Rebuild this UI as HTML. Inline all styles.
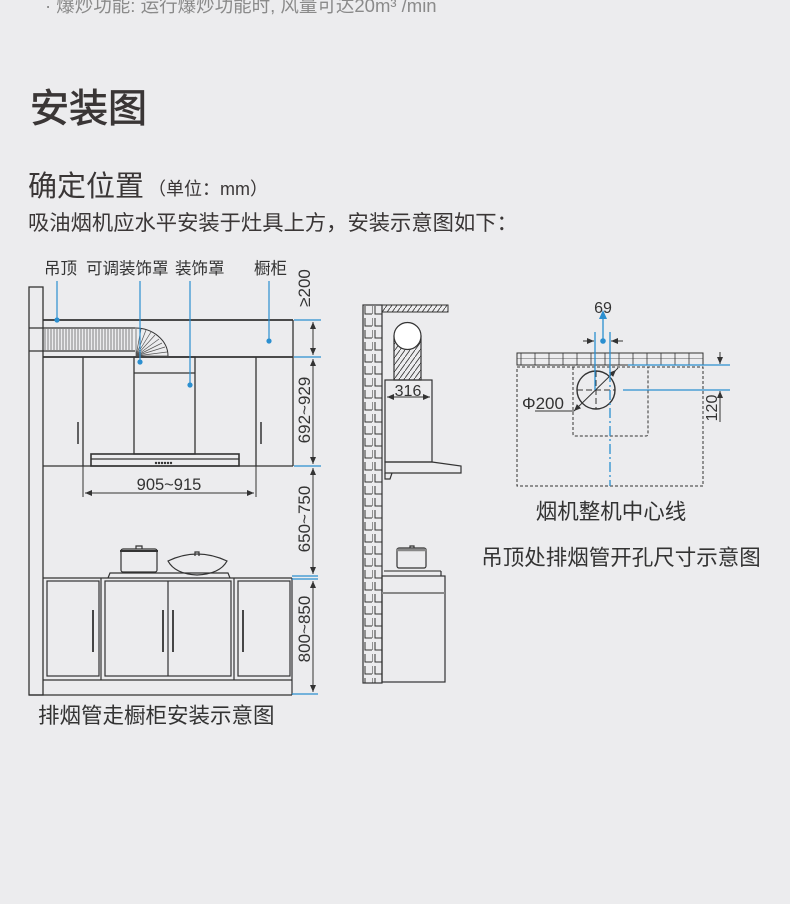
<!DOCTYPE html>
<html><head><meta charset="utf-8">
<style>
html,body{margin:0;padding:0;background:#ececee;}
svg{display:block;}
text{font-family:"Liberation Sans","Noto Sans CJK SC",sans-serif;}
</style></head><body>
<svg width="790" height="904" viewBox="0 0 790 904" xmlns="http://www.w3.org/2000/svg">
<defs>
<marker id="ar" markerWidth="8" markerHeight="8" refX="7" refY="4" orient="auto" markerUnits="userSpaceOnUse"><path d="M0,1 L7,4 L0,7 Z" fill="#333"/></marker>
<marker id="al" markerWidth="8" markerHeight="8" refX="1" refY="4" orient="auto" markerUnits="userSpaceOnUse"><path d="M8,1 L1,4 L8,7 Z" fill="#333"/></marker>
<pattern id="brick" width="10" height="12" patternUnits="userSpaceOnUse" x="363" y="305">
<path d="M2,1 V9 H9 M10,1 V9" stroke="#333" stroke-width="1" fill="none"/>
</pattern>
<pattern id="brick2" width="14" height="6" patternUnits="userSpaceOnUse" x="517" y="353">
<path d="M0,6 H14 M4,0 V6 M11,6 V12" stroke="#333" stroke-width="0.8" fill="none"/>
</pattern>
<pattern id="hatch" width="5" height="7" patternUnits="userSpaceOnUse">
<path d="M0,7 L5,0" stroke="#333" stroke-width="0.8"/>
</pattern>
</defs>

<text x="45" y="12" font-size="18.5" fill="#8a8a8a">· 爆炒功能: 运行爆炒功能时, 风量可达20m³ /min</text>
<text x="30" y="122" font-size="39" fill="#3a3636" stroke="#3a3636" stroke-width="0.8">安装图</text>
<text x="28" y="196" font-size="29" fill="#3a3636">确定位置</text>
<text x="148" y="195" font-size="18" fill="#3a3636">（单位：mm）</text>
<text x="28" y="230" font-size="21.3" fill="#3a3636">吸油烟机应水平安装于灶具上方，安装示意图如下：</text>

<g stroke="#333" stroke-width="1.3" fill="none">
<rect x="29" y="287" width="14" height="408"/>
<line x1="43" y1="320" x2="293" y2="320" stroke-width="1.8"/>
<line x1="43" y1="357" x2="293" y2="357" stroke-width="1.8"/>
<line x1="29" y1="328" x2="135" y2="328"/>
<line x1="29" y1="351" x2="135" y2="351"/>
<line x1="293" y1="320" x2="293" y2="466"/>
<line x1="43" y1="466" x2="293" y2="466"/>
<line x1="83" y1="357" x2="83" y2="466"/>
<line x1="256" y1="357" x2="256" y2="466"/>
<line x1="78" y1="422" x2="78" y2="444" stroke-width="1.5"/>
<line x1="261" y1="422" x2="261" y2="444" stroke-width="1.5"/>
<rect x="134" y="357" width="61" height="97"/>
<line x1="134" y1="373" x2="195" y2="373"/>
<rect x="91" y="454" width="148" height="12" stroke-width="1.6"/>
<line x1="91" y1="459" x2="239" y2="459"/>
</g>
<g stroke="#555" stroke-width="0.7">
<path d="M45,329V350M48,329V350M51,329V350M54,329V350M57,329V350M60,329V350M63,329V350M66,329V350M69,329V350M72,329V350M75,329V350M78,329V350M81,329V350M84,329V350M87,329V350M90,329V350M93,329V350M96,329V350M99,329V350M102,329V350M105,329V350M108,329V350M111,329V350M114,329V350M117,329V350M120,329V350M123,329V350M126,329V350M129,329V350M132,329V350"/>
<path d="M136,356 L136,329 M136,356 L141,329 M136,356 L146,330 M136,356 L151,332 M136,356 L155,335 M136,356 L159,339 M136,356 L162,343 M136,356 L165,347 M136,356 L167,352 M136,356 L168,356"/>
</g>
<path d="M135,328 A33,28 0 0 1 168,356" stroke="#333" fill="none"/>
<g fill="#333"><circle cx="156" cy="463" r="1.2"/><circle cx="159" cy="463" r="1.2"/><circle cx="162" cy="463" r="1.2"/><circle cx="165" cy="463" r="1.2"/><circle cx="168" cy="463" r="1.2"/><circle cx="171" cy="463" r="1.2"/></g>

<g stroke="#333" stroke-width="1"><line x1="83" y1="466" x2="83" y2="497"/><line x1="256" y1="466" x2="256" y2="497"/>
<line x1="85" y1="493" x2="254" y2="493" marker-start="url(#al)" marker-end="url(#ar)"/></g>
<text x="169" y="490" font-size="16.5" fill="#333" text-anchor="middle">905~915</text>

<g stroke="#333" stroke-width="1.2" fill="none">
<line x1="43" y1="578" x2="292" y2="578"/>
<line x1="43" y1="680" x2="292" y2="680"/>
<line x1="29" y1="695" x2="292" y2="695"/>
<line x1="292" y1="578" x2="292" y2="695"/>
<line x1="101" y1="578" x2="101" y2="680"/><line x1="234" y1="578" x2="234" y2="680"/>
<rect x="47" y="581" width="52" height="95"/>
<rect x="105" y="581" width="126" height="95"/>
<line x1="168" y1="581" x2="168" y2="676"/>
<rect x="238" y="581" width="52" height="95"/>
</g>
<g stroke="#333" stroke-width="1.8"><line x1="93" y1="610" x2="93" y2="652"/><line x1="163" y1="610" x2="163" y2="652"/><line x1="173" y1="610" x2="173" y2="652"/><line x1="243" y1="610" x2="243" y2="652"/></g>
<g stroke="#333" stroke-width="1.2" fill="none">
<rect x="121" y="549" width="36" height="23" rx="2"/>
<line x1="120" y1="551" x2="158" y2="551" stroke-width="2"/>
<path d="M136,549 v-3 h6 v3"/>
<path d="M168,561 Q197,547 227,561 Q220,574 197,575 Q175,574 168,561 Z"/>
<path d="M195,556 v-4 h4 v4"/>
<path d="M108,578 L110,573 H228 L230,578"/>
</g>

<g font-size="16.5" fill="#333"><text x="44" y="274">吊顶</text><text x="86" y="274">可调装饰罩</text><text x="175" y="274">装饰罩</text><text x="254" y="274">橱柜</text></g>
<g stroke="#2b8fd0" stroke-width="1.2"><line x1="57" y1="281" x2="57" y2="320"/><line x1="140" y1="281" x2="140" y2="362"/><line x1="190" y1="281" x2="190" y2="385"/><line x1="269" y1="281" x2="269" y2="341"/></g>
<g fill="#2b8fd0"><circle cx="57" cy="320" r="2.6"/><circle cx="140" cy="362" r="2.6"/><circle cx="190" cy="385" r="2.6"/><circle cx="269" cy="341" r="2.6"/></g>

<g stroke="#2b8fd0" stroke-width="1.3"><line x1="294" y1="320" x2="321" y2="320"/><line x1="294" y1="357" x2="321" y2="357"/><line x1="294" y1="466" x2="321" y2="466"/><line x1="292" y1="576" x2="318" y2="576"/><line x1="292" y1="579" x2="318" y2="579"/><line x1="292" y1="694" x2="318" y2="694"/></g>
<g stroke="#333" stroke-width="1">
<line x1="313" y1="322" x2="313" y2="355" marker-start="url(#al)" marker-end="url(#ar)"/>
<line x1="313" y1="359" x2="313" y2="464" marker-start="url(#al)" marker-end="url(#ar)"/>
<line x1="313" y1="468" x2="313" y2="574" marker-start="url(#al)" marker-end="url(#ar)"/>
<line x1="313" y1="581" x2="313" y2="692" marker-start="url(#al)" marker-end="url(#ar)"/>
</g>
<g font-size="17" fill="#333" text-anchor="middle">
<text transform="translate(310,288) rotate(-90)">≥200</text>
<text transform="translate(310,410) rotate(-90)">692~929</text>
<text transform="translate(310,519) rotate(-90)">650~750</text>
<text transform="translate(310,629) rotate(-90)">800~850</text>
</g>
<text x="38" y="723" font-size="21.5" fill="#333">排烟管走橱柜安装示意图</text>

<rect x="363" y="305" width="19" height="378" fill="url(#brick)" stroke="#333" stroke-width="1.2"/>
<rect x="382" y="305" width="66" height="7" fill="url(#hatch)" stroke="#333" stroke-width="1"/>
<g stroke="#333" stroke-width="1.2" fill="none">
<rect x="394" y="336" width="27" height="44" fill="url(#hatch)"/>
<circle cx="407.5" cy="336" r="13.5" fill="#fff"/>
<rect x="385" y="380" width="47" height="82"/>
<path d="M385,462 H432 L461,466 V473 H385 Z"/>
<path d="M385,473 v6 h5 l2,-6"/>
<rect x="397" y="548" width="29" height="20" rx="2"/>
<line x1="396" y1="550" x2="427" y2="550" stroke-width="2.5" stroke="#888"/>
<path d="M410,548 v-2 h4 v2"/>
<line x1="384" y1="571" x2="441" y2="571" stroke="#888" stroke-width="2"/>
<line x1="441" y1="571" x2="441" y2="576"/>
<rect x="382" y="576" width="63" height="106"/>
<line x1="382" y1="593" x2="445" y2="593" stroke="#888" stroke-width="2"/>
</g>
<line x1="387" y1="397" x2="430" y2="397" stroke="#333" marker-start="url(#al)" marker-end="url(#ar)"/>
<text x="408" y="396" font-size="16" fill="#333" text-anchor="middle">316</text>

<rect x="517" y="353" width="186" height="12" fill="url(#brick2)" stroke="#333" stroke-width="1"/>
<g stroke="#333" stroke-width="1" fill="none" stroke-dasharray="3,2">
<rect x="517" y="367" width="186" height="119"/>
<path d="M573,367 V434 Q573,436 575,436 H646 Q648,436 648,434 V367"/>
</g>
<circle cx="596" cy="390" r="19" fill="none" stroke="#333" stroke-width="1.4"/>
<g stroke="#333" stroke-width="1" stroke-dasharray="6,3"><line x1="577" y1="390" x2="615" y2="390"/><line x1="596" y1="371" x2="596" y2="409"/></g>
<line x1="535" y1="411" x2="574" y2="411" stroke="#333"/>
<line x1="574" y1="411" x2="616" y2="370" stroke="#333" marker-start="url(#al)" marker-end="url(#ar)"/>
<line x1="616" y1="370" x2="618" y2="368" stroke="#333"/>
<text x="522" y="409" font-size="17" fill="#333">Φ200</text>
<g stroke="#2b8fd0" stroke-width="1.3">
<line x1="595" y1="332" x2="595" y2="390"/><line x1="610" y1="332" x2="610" y2="372"/>
<line x1="610" y1="372" x2="610" y2="486" stroke-dasharray="10,3,2,3"/>
<line x1="628" y1="365" x2="730" y2="365"/><line x1="623" y1="390" x2="730" y2="390"/>
<line x1="603" y1="341" x2="603" y2="318"/>
</g>
<path d="M599,319 L603,310 L607,319 Z" fill="#2b8fd0"/>
<circle cx="603" cy="341" r="2.8" fill="#2b8fd0"/>
<g stroke="#333" stroke-width="1"><line x1="583" y1="341" x2="594" y2="341" marker-end="url(#ar)"/><line x1="623" y1="341" x2="611" y2="341" marker-end="url(#ar)"/>
<line x1="720" y1="352" x2="720" y2="364" marker-end="url(#ar)"/><line x1="720" y1="422" x2="720" y2="391" marker-end="url(#ar)"/></g>
<text x="603" y="313" font-size="16" fill="#333" text-anchor="middle">69</text>
<text transform="translate(717,408) rotate(-90)" font-size="16" fill="#333" text-anchor="middle">120</text>
<text x="611" y="519" font-size="21.5" fill="#333" text-anchor="middle">烟机整机中心线</text>
<text x="621" y="565" font-size="21.5" fill="#333" text-anchor="middle">吊顶处排烟管开孔尺寸示意图</text>
</svg>
</body></html>
